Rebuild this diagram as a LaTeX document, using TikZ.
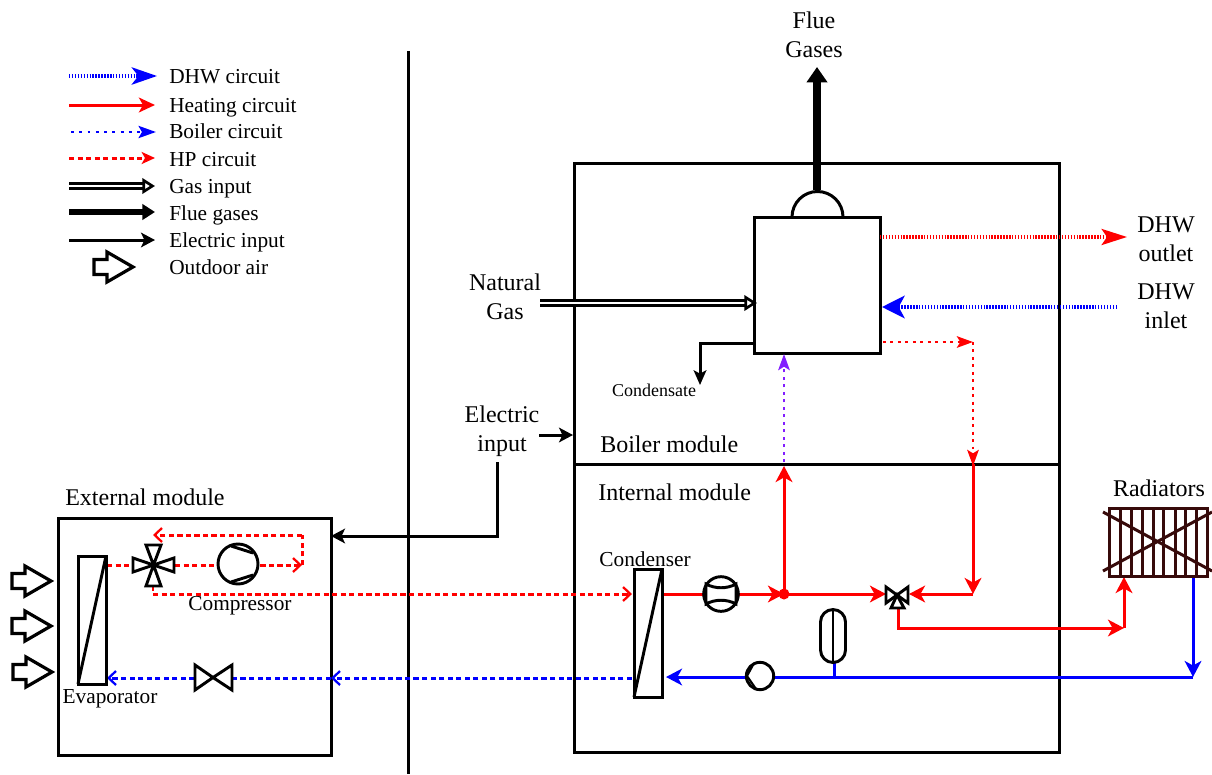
\documentclass[tikz,border=0pt]{standalone}
\usepackage{fontspec}
\setmainfont{Liberation Serif}
\usetikzlibrary{arrows.meta}
\tikzset{
  x=0.75pt,y=-0.75pt,
  box/.style={draw=black,line width=2.25pt,fill=none},
  comp/.style={draw=black,line width=2.25pt,fill=white},
  round/.style={draw=black,line width=2.2pt,fill=white},
  lab/.style={font=\fontsize{16}{21}\selectfont,inner sep=0pt,align=center},
  bigl/.style={font=\fontsize{18}{21.75}\selectfont,inner sep=0pt,align=center},
  redtip/.tip={Stealth[length=12pt,width=12.5pt,inset=3.4pt]},
  bluetip/.tip={Stealth[length=12pt,width=12.5pt,inset=3.4pt]},
  barb/.tip={Straight Barb[length=5.5pt,width=10.5pt,line width=1.7pt]},
  heat/.style={red,line width=2.25pt,-redtip},
  cold/.style={blue,line width=2.25pt,-bluetip},
  hpd/.style={red,line width=2.25pt,dash pattern=on 3.9pt off 2.5pt},
  cwd/.style={blue,line width=2.25pt,dash pattern=on 3.9pt off 2.5pt},
  dhwr/.style={red,line width=2.6pt,dash pattern=on 1.1pt off 1.1pt,-{Stealth[length=19pt,width=12pt,inset=4pt]}},
  dhwb/.style={blue,line width=2.6pt,dash pattern=on 1.1pt off 1.1pt,-{Stealth[length=17pt,width=17pt,inset=4.5pt]}},
  boil/.style={line width=2.2pt,dash pattern=on 2.2pt off 3.4pt,-{Stealth[length=12pt,width=8.5pt,inset=2.5pt]}},
  elec/.style={black,line width=2.25pt,-{Stealth[length=10.5pt,width=11pt,inset=2.6pt]}},
  gas/.style={double=white,double distance=1.6pt,line width=1.9pt,draw=black,-{Triangle[open,fill=white,length=9.5pt,width=11.5pt,line width=2pt]}},
  flue/.style={black,line width=6pt,-{Triangle[length=11.5pt,width=15pt]}},
  air/.style={draw=black,line width=2.4pt,fill=white,line join=miter},
  radc/.style={draw={rgb,255:red,55;green,10;blue,10},line width=2.25pt},
}
\newcommand{\airarrow}[1]{\draw[air,shift={(#1)}] (-20,-7.5) -- (-7,-7.5) -- (-7,-15) -- (19,0) -- (-7,15) -- (-7,7.5) -- (-20,7.5) -- cycle;}
\begin{document}
\begin{tikzpicture}
\useasboundingbox (0,0) rectangle (1212,774);
\fill[white] (0,0) rectangle (1212,774);

% legend
\foreach \n/\xa/\xb/\y in {a/69/157/76,b/69/155/105,c/71/156/132,d/69/155/158,e/69/155/186,f/69/155/212,g/69/155/240}{
  \coordinate (l\n1) at (\xa,\y); \coordinate (l\n2) at (\xb,\y);
}
\draw[blue,line width=2.6pt,dash pattern=on 1.1pt off 1.1pt,-{Stealth[length=19pt,width=13pt,inset=5pt]}] (la1) -- (la2);
\draw[red,line width=2.25pt,-{Stealth[length=12pt,width=11pt,inset=3pt]}] (lb1) -- (lb2);
\draw[blue,line width=2.2pt,dash pattern=on 2.2pt off 4pt,-{Stealth[length=13pt,width=9pt,inset=2.5pt]}] (lc1) -- (lc2);
\draw[red,line width=2.25pt,dash pattern=on 3.9pt off 2.5pt,-{Stealth[length=10pt,width=9pt,inset=2.5pt]}] (ld1) -- (ld2);
\draw[gas] (le1) -- (le2);
\draw[black,line width=4.4pt,-{Triangle[length=9.5pt,width=11.5pt]}] (lf1) -- (lf2);
\draw[elec] (lg1) -- (lg2);
\airarrow{114,267}
\foreach \y/\t in {84/DHW circuit,112/Heating circuit,138/Boiler circuit,166/HP circuit,193/Gas input,220/Flue gases,247/Electric input,274/Outdoor air}
  \node[lab,anchor=base west] (t\y) at (169,\y) {\t};

% divider
\coordinate (dv1) at (408,51); \coordinate (dv2) at (408,774);
\draw[line width=2.25pt] (dv1) -- (dv2);

% modules
\coordinate (extA) at (58,518); \coordinate (extB) at (331,755);
\draw[box] (extA) rectangle (extB);
\coordinate (modA) at (574,163); \coordinate (modB) at (1059,752);
\draw[box] (modA) rectangle (modB);
\coordinate (mid1) at (574,464); \coordinate (mid2) at (1059,464);
\draw[box] (mid1) -- (mid2);

% labels
\node[bigl,anchor=west] (extl) at (65,497) {External module};
\node[bigl,anchor=west] (boill) at (600,444) {Boiler module};
\node[bigl,anchor=west] (intl) at (598,492) {Internal module};
\node[bigl] (fluel) at (814,35) {Flue\\Gases};
\node[bigl] (natgas) at (505,296.5) {Natural\\Gas};
\node[bigl] (einp) at (502,431) {Electric\\input};
\node[bigl] (dhwo) at (1166,239) {DHW\\outlet};
\node[bigl] (dhwi) at (1166,306) {DHW\\inlet};
\node[bigl] (radl) at (1159,488) {Radiators};
\node[lab] (condl) at (645,559) {Condenser};
\node[lab] (compl) at (240,606) {Compressor};
\node[lab] (evapl) at (110,699) {Evaporator};
\node[font=\fontsize{13.5}{16}\selectfont,inner sep=0pt] (cond) at (654,390) {Condensate};

% boiler block
\coordinate (bA) at (754,217); \coordinate (bB) at (880,353);
\draw[comp] (bA) rectangle (bB);
\coordinate (hood1) at (792,217);
\draw[box] (hood1) arc[start angle=180,end angle=360,radius=25.5];
\coordinate (fl1) at (817,190); \coordinate (fl2) at (817,67);
\draw[flue] (fl1) -- (fl2);

% gas, condensate, electric
\coordinate (g1) at (540,303); \coordinate (g2) at (757,303);
\draw[gas] (g1) -- (g2);
\coordinate (c1) at (754,343); \coordinate (c2) at (700,343); \coordinate (c3) at (700,385);
\draw[line width=2.25pt,-{Stealth[length=11pt,width=9.5pt,inset=2.5pt]}] (c1) -- (c2) -- (c3);
\coordinate (e1) at (539,435); \coordinate (e2) at (573,435);
\draw[elec] (e1) -- (e2);
\coordinate (e3) at (497,462); \coordinate (e4) at (497,536); \coordinate (e5) at (331,536);
\draw[elec] (e3) -- (e4) -- (e5);

% DHW
\coordinate (do1) at (880,237); \coordinate (do2) at (1127,237);
\draw[dhwr] (do1) -- (do2);
\coordinate (di1) at (1117,307); \coordinate (di2) at (882,307);
\draw[dhwb] (di1) -- (di2);

% boiler circuit
\coordinate (br1) at (883,342); \coordinate (br2) at (973,342); \coordinate (br3) at (973,466);
\draw[red,boil] (br1) -- (br2);
\draw[red,boil] (br2) -- (br3);
\coordinate (bv1) at (784,462); \coordinate (bv2) at (784,354);
\draw[color={rgb,255:red,130;green,30;blue,255},boil] (bv1) -- (bv2);

% heating circuit
\coordinate (jn) at (784,594);
\coordinate (hs) at (664,594);
\coordinate (jt) at (784,466);
\draw[heat] (jn) -- (jt);
\draw[heat] (hs) -- (jn);
\coordinate (vleft) at (886,594);
\draw[heat] (jn) -- (vleft);
\coordinate (ret1) at (973,464); \coordinate (ret2) at (973,594);
\draw[heat] (ret1) -- (ret2);
\coordinate (vright) at (909,594);
\draw[heat] (ret2) -- (vright);
\coordinate (o1) at (898,606); \coordinate (o2) at (898,628); \coordinate (o3) at (1124,628); \coordinate (o4) at (1124,577);
\draw[heat] (o1) -- (o2) -- (o3);
\draw[heat] (o3) -- (o4);
\fill[red] (jn) circle (5.5);

% circulator, heating side
\node[round,circle,minimum size=26pt,inner sep=0pt] (hpump) at (721,594) {};
\draw[draw=black,line width=2.2pt] (706,584) .. controls (715,589) and (727,589) .. (736,584) -- (736,604) .. controls (727,599) and (715,599) .. (706,604) -- cycle;

% 3-way valve
\draw[comp,line width=2.2pt,line join=miter] (886,587) -- (908,603) -- (908,587) -- (886,603) -- cycle;
\draw[comp,line width=2.2pt,line join=miter] (897,595) -- (891,608) -- (904,608) -- cycle;

% return (blue) line
\coordinate (rr1) at (1193,576); \coordinate (rr2) at (1193,677);
\draw[cold] (rr1) -- (rr2);
\coordinate (rr3) at (666,677);
\draw[cold] (rr2) -- (rr3);
\coordinate (ex1) at (834,677); \coordinate (ex2) at (834,662);
\draw[blue,line width=2.25pt] (ex1) -- (ex2);
\draw[round] (820.5,622) arc[start angle=180,end angle=360,radius=12.5] -- (845.5,650) arc[start angle=0,end angle=180,radius=12.5] -- cycle;
\coordinate (tk1) at (833,610); \coordinate (tk2) at (833,662);
\draw[box,line width=2.2pt] (tk1) -- (tk2);
\node[round,circle,minimum size=20.5pt,inner sep=0pt] (cpump) at (760,676) {};
\coordinate (pa) at (754,663); \coordinate (pb) at (747,676); \coordinate (pc) at (756,689);
\draw[box,line width=1.6pt] (pa) -- (pb) -- (pc);

% condenser
\coordinate (cA) at (634,569); \coordinate (cB) at (662,697);
\draw[comp] (cA) rectangle (cB);
\coordinate (cC) at (662,569); \coordinate (cD) at (634,697);
\draw[box,line width=2.2pt] (cC) -- (cD);

% HP dashed
\coordinate (hp1) at (153,594); \coordinate (hp2) at (632,594);
\draw[hpd,-barb] (hp1) -- (hp2);
\coordinate (hp3) at (153,586);
\draw[hpd,line width=1.6pt] (hp3) -- (hp1);
\coordinate (ev1) at (107,565); \coordinate (ev2) at (134,565);
\draw[hpd] (ev1) -- (ev2);
\coordinate (cp1) at (175,565); \coordinate (cp2) at (302,565);
\draw[hpd,-barb] (cp1) -- (cp2);
\coordinate (cp3) at (302,535); \coordinate (cp4) at (153,535);
\draw[hpd] (cp2) -- (cp3);
\draw[hpd,-barb] (cp3) -- (cp4);

% blue dashed
\coordinate (bd1) at (632,678); \coordinate (bd2) at (331,678); \coordinate (bd4) at (107,678);
\draw[cwd,-barb] (bd1) -- (bd2);
\draw[cwd,-barb] (bd2) -- (bd4);

% evaporator
\coordinate (eA) at (78,556); \coordinate (eB) at (106,684);
\draw[comp] (eA) rectangle (eB);
\coordinate (eC) at (106,556); \coordinate (eD) at (78,684);
\draw[box,line width=2.2pt] (eC) -- (eD);

% 4-way valve
\coordinate (vc) at (153.5,565);
\draw[round,line join=miter] (vc) -- (133,558) -- (133,572) -- cycle;
\draw[round,line join=miter] (vc) -- (174,558) -- (174,572) -- cycle;
\draw[round,line join=miter] (vc) -- (146,545) -- (161,545) -- cycle;
\draw[round,line join=miter] (vc) -- (146,586) -- (161,586) -- cycle;

% compressor
\node[round,circle,minimum size=30pt,inner sep=0pt] (compr) at (238,564) {};
\coordinate (s1) at (231,546); \coordinate (s2) at (253,553);
\coordinate (s3) at (231,582); \coordinate (s4) at (253,575);
\draw[box,line width=2.2pt] (s1) -- (s2);
\draw[box,line width=2.2pt] (s3) -- (s4);

% expansion valve
\coordinate (xc) at (213,677.5);
\draw[round,line join=miter] (xc) -- (195,665) -- (195,690) -- cycle;
\draw[round,line join=miter] (xc) -- (232,665) -- (232,690) -- cycle;

% air arrows
\airarrow{32,581}
\airarrow{32,626}
\airarrow{33,672}

% radiators
\coordinate (rA) at (1109,508); \coordinate (rB) at (1207,576);
\draw[radc] (rA) rectangle (rB);
\foreach \x in {1120,1131,1142,1153,1163,1175,1185,1196}
  \draw[radc] (\x,508) -- (\x,576);
\coordinate (x1) at (1103,512); \coordinate (x2) at (1212,571);
\coordinate (x3) at (1103,571); \coordinate (x4) at (1212,512);
\draw[radc] (x1) -- (x2);
\draw[radc] (x3) -- (x4);
\end{tikzpicture}
\end{document}
